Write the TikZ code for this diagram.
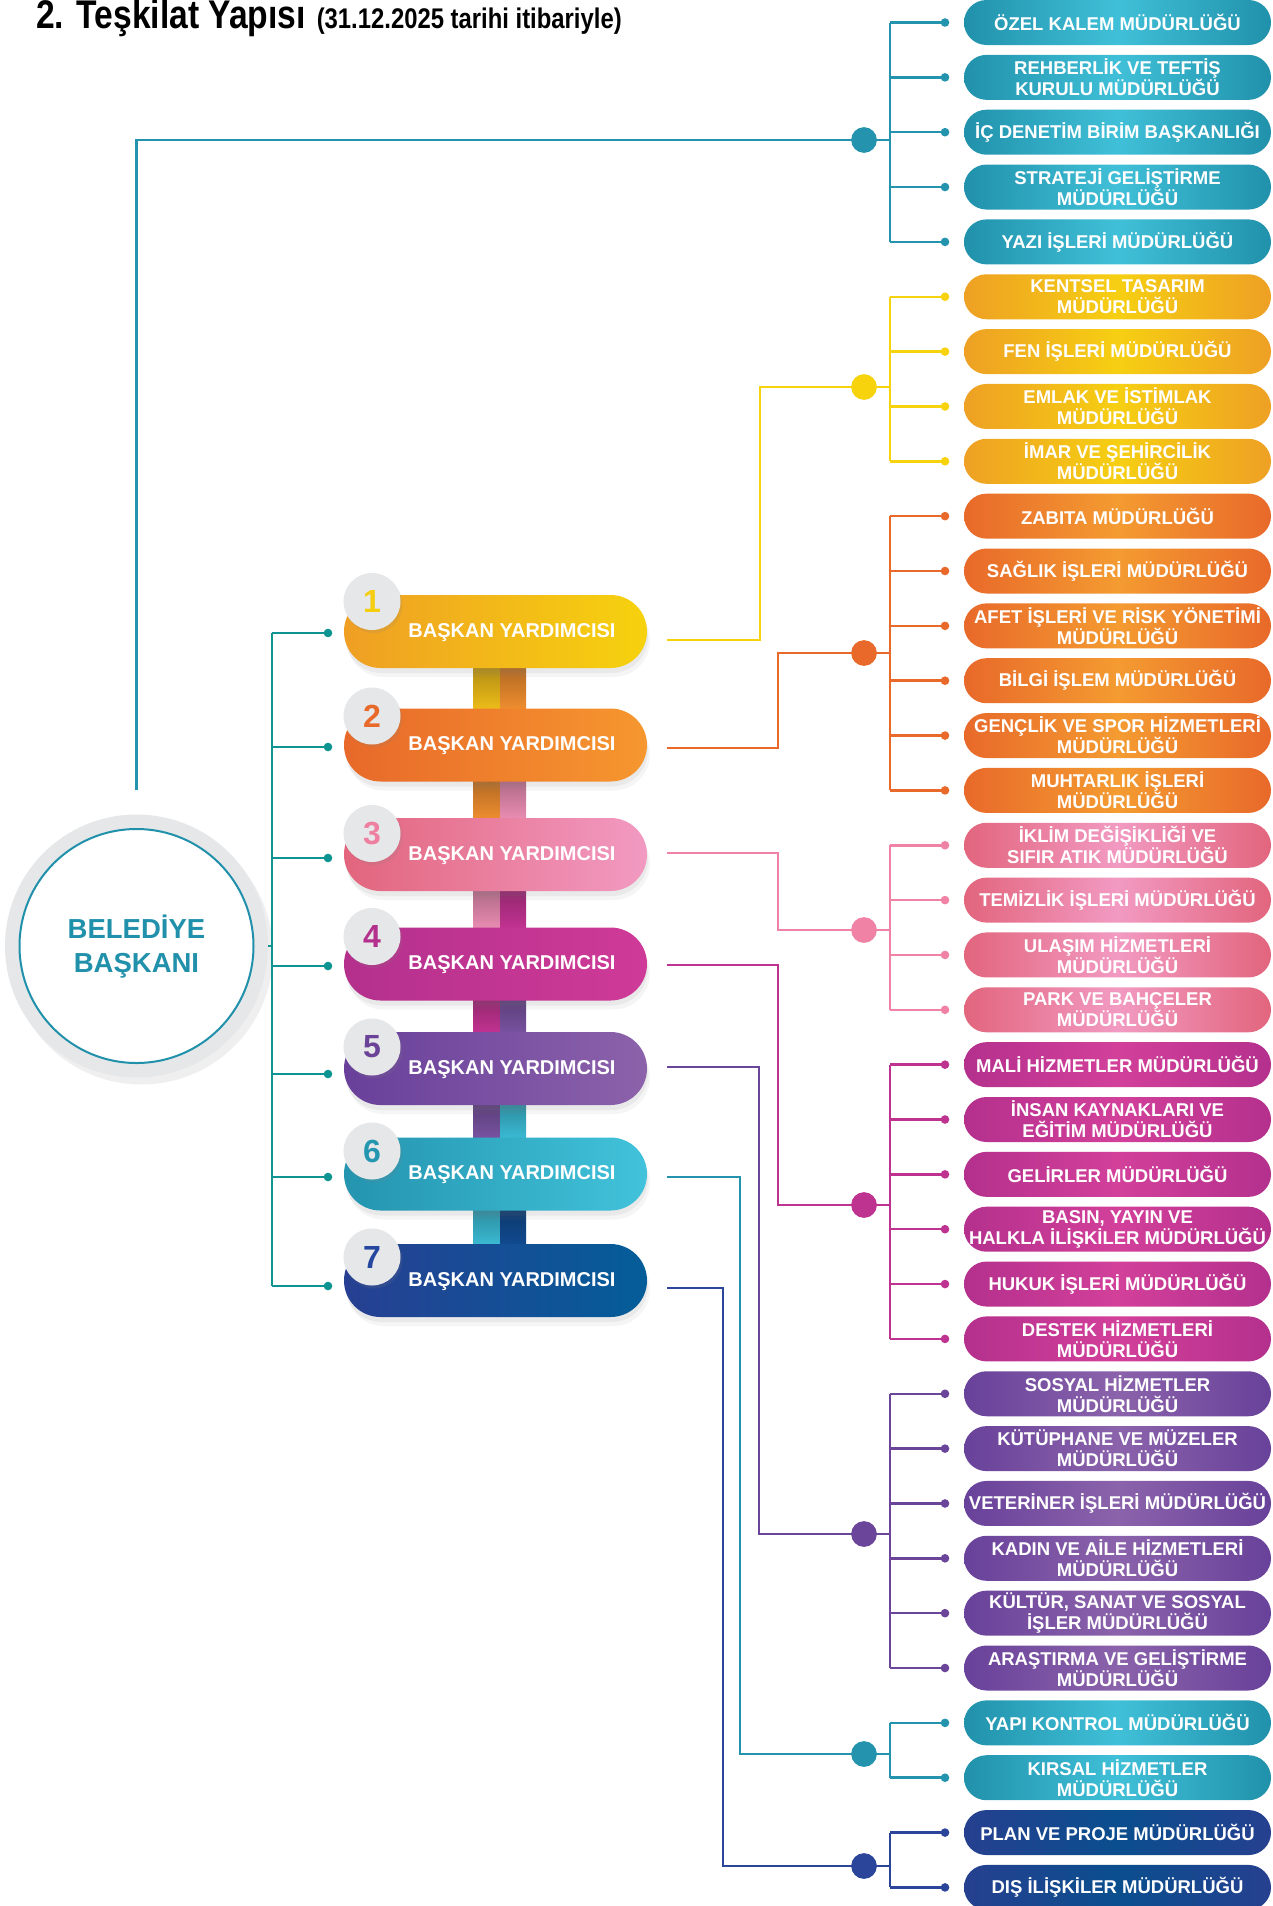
\documentclass[tikz,border=0pt]{standalone}
\usepackage{fontspec}
\setmainfont{Liberation Sans}
\newfontfamily\condfont[FakeStretch=0.84]{Liberation Sans}
\usetikzlibrary{shadows}
% box colours (A = edge, B = centre, L = line)
\definecolor{tlA}{HTML}{2191AB}\definecolor{tlB}{HTML}{40C0D8}\definecolor{tlL}{HTML}{2494AE}
\definecolor{ylA}{HTML}{EEA024}\definecolor{ylB}{HTML}{F6CF12}\definecolor{ylL}{HTML}{F6D30C}
\definecolor{orA}{HTML}{E8692A}\definecolor{orB}{HTML}{F49B31}\definecolor{orL}{HTML}{E8692A}
\definecolor{pkA}{HTML}{E2657D}\definecolor{pkB}{HTML}{F29AC2}\definecolor{pkL}{HTML}{EF82A5}
\definecolor{mgA}{HTML}{B4308D}\definecolor{mgB}{HTML}{D2409A}\definecolor{mgL}{HTML}{BE338F}
\definecolor{puA}{HTML}{68419A}\definecolor{puB}{HTML}{8B63AB}\definecolor{puL}{HTML}{6B4599}
\definecolor{nvA}{HTML}{26408F}\definecolor{nvB}{HTML}{0A4E8E}\definecolor{nvL}{HTML}{2A4599}
\definecolor{vpL}{HTML}{0E9490}
\definecolor{ring}{HTML}{E6E7E8}
% pill colours
\definecolor{v1a}{HTML}{EF9F24}\definecolor{v1b}{HTML}{F6D20E}
\definecolor{v2a}{HTML}{E8692A}\definecolor{v2b}{HTML}{F6972F}
\definecolor{v3a}{HTML}{E2657D}\definecolor{v3b}{HTML}{F29AC2}
\definecolor{v4a}{HTML}{B4308D}\definecolor{v4b}{HTML}{CF3A97}
\definecolor{v5a}{HTML}{68409A}\definecolor{v5b}{HTML}{8C62AB}
\definecolor{v6a}{HTML}{2494AF}\definecolor{v6b}{HTML}{42C3DB}
\definecolor{v7a}{HTML}{273F92}\definecolor{v7b}{HTML}{045D99}
\definecolor{n1}{HTML}{F5CE10}\definecolor{n2}{HTML}{E8692A}\definecolor{n3}{HTML}{EE7FA0}
\definecolor{n4}{HTML}{B4308D}\definecolor{n5}{HTML}{6A4297}\definecolor{n6}{HTML}{2596B0}
\definecolor{n7}{HTML}{2647A0}
\definecolor{bY}{HTML}{F2C01A}\definecolor{bO}{HTML}{F39030}\definecolor{bP}{HTML}{EF90B7}
\definecolor{bM}{HTML}{C73495}\definecolor{bU}{HTML}{7B54A4}\definecolor{bC}{HTML}{3CBED8}
\definecolor{bN}{HTML}{114C93}

\newcommand\rbx[4]{%
  \node[rbox,sh=#2] (b#1) at (1117.5,{22.5+54.85*(#1-1)}) {#4};
  \node[sdot=#3] (sd#1) at (945,{22.5+54.85*(#1-1)}) {};}
\newcommand\mkgrp[4]{%
  \draw[conn=#1] (#4.center) -- (#4 -| bx) (sd#2 -| bx) -- (sd#3 -| bx);
  \foreach \i in {#2,...,#3}{\draw[conn=#1] (sd\i -| bx) -- (sd\i.center);}}

\begin{document}
\begin{tikzpicture}[x=1pt,y=-1pt,
  rbox/.style={rectangle, rounded corners=22.5pt, minimum width=307pt, minimum height=45pt,
    inner sep=0pt, text=white, align=center, font=\fontsize{18.5}{21}\selectfont\bfseries},
  sh/.style={left color=#1A, right color=#1A, middle color=#1B},
  sdot/.style={circle, minimum size=8.6pt, inner sep=0pt, fill=#1},
  bdot/.style={circle, minimum size=25.4pt, inner sep=0pt, fill=#1},
  conn/.style={draw=#1, line width=2.5pt},
  vp/.style={rectangle, rounded corners=36.5pt, minimum width=303pt, minimum height=73pt, inner sep=0pt,
    drop shadow={shadow xshift=3pt, shadow yshift=-9pt, opacity=0.08},
    drop shadow={shadow xshift=1pt, shadow yshift=-5pt, opacity=0.10}},
  vptext/.style={text=white, inner sep=0pt, font=\fontsize{20}{20}\selectfont\bfseries},
  numc/.style={circle, fill=ring, minimum size=57pt, inner sep=0pt, font=\fontsize{32}{32}\selectfont\bfseries,
    drop shadow={shadow xshift=2pt, shadow yshift=-3pt, opacity=0.15}},
  bar/.style={top color=#1!70!black, bottom color=#1}
]
\fill[white] (0,0) rectangle (1273,1906);
\useasboundingbox (0,0) rectangle (1273,1906);

% title
\node[anchor=base west, inner sep=0pt] (title) at (36,28)
  {\condfont\bfseries\fontsize{40}{40}\selectfont 2. Teşkilat Yapısı\hspace{11pt}{\fontsize{28.4}{28}\selectfont(31.12.2025 tarihi itibariyle)}};

% connecting bars between vice-president pills
\fill[bar=bY] (473,662) rectangle (500,712);
\fill[bar=bO] (500,662) rectangle (526,712);
\fill[bar=bO] (473,775) rectangle (500,822);
\fill[bar=bP] (500,775) rectangle (526,822);
\fill[bar=bP] (473,885) rectangle (500,932);
\fill[bar=bM] (500,885) rectangle (526,932);
\fill[bar=bM] (473,994) rectangle (500,1036);
\fill[bar=bU] (500,994) rectangle (526,1036);
\fill[bar=bU] (473,1099) rectangle (500,1141);
\fill[bar=bC] (500,1099) rectangle (526,1141);
\fill[bar=bC] (473,1204) rectangle (500,1248);
\fill[bar=bN] (500,1204) rectangle (526,1248);

% president
\node[circle, fill=ring, minimum size=263pt, inner sep=0pt,
  drop shadow={shadow xshift=5pt, shadow yshift=-7pt, opacity=0.12}] (pres) at (136.5,946) {};
\node[circle, fill=white, draw=tlA, line width=2pt, minimum size=234pt, inner sep=0pt] (presin) at (136.5,946) {};
\node[text=tlA, align=center, inner sep=0pt, font=\fontsize{27.5}{34}\selectfont\bfseries] (prest) at (136.5,947) {BELEDİYE\\BAŞKANI};

% vice-president pills
\foreach \k/\c/\nc in {1/631.5/601.5, 2/745/716, 3/854.5/833.5, 4/964/936.5, 5/1068.5/1047, 6/1174/1151, 7/1280.5/1257}{
  \node[vp, left color=v\k a, right color=v\k b] (v\k) at (495.5,\c) {};
  \node[vptext] (vt\k) at (512,\c+1) {BAŞKAN YARDIMCISI};
  \node[numc, text=n\k] (nc\k) at (372,\nc) {\k};
}

% left bracket from president to vice-presidents
\coordinate (vx) at (272,0);
\foreach \k/\y in {1/633, 2/747, 3/858, 4/966, 5/1074, 6/1177, 7/1286}{
  \node[sdot=vpL] (vd\k) at (328,\y) {};
  \draw[conn=vpL] (vd\k -| vx) -- (vd\k.center);
}
\draw[conn=vpL] (vd1 -| vx) -- (vd7 -| vx);
\draw[conn=vpL] (pres.east) -- (pres.east -| vx);

% right-hand boxes
\rbx{1}{tl}{tlL}{ÖZEL KALEM MÜDÜRLÜĞÜ}
\rbx{2}{tl}{tlL}{REHBERLİK VE TEFTİŞ\\KURULU MÜDÜRLÜĞÜ}
\rbx{3}{tl}{tlL}{İÇ DENETİM BİRİM BAŞKANLIĞI}
\rbx{4}{tl}{tlL}{STRATEJİ GELİŞTİRME\\MÜDÜRLÜĞÜ}
\rbx{5}{tl}{tlL}{YAZI İŞLERİ MÜDÜRLÜĞÜ}
\rbx{6}{yl}{ylL}{KENTSEL TASARIM\\MÜDÜRLÜĞÜ}
\rbx{7}{yl}{ylL}{FEN İŞLERİ MÜDÜRLÜĞÜ}
\rbx{8}{yl}{ylL}{EMLAK VE İSTİMLAK\\MÜDÜRLÜĞÜ}
\rbx{9}{yl}{ylL}{İMAR VE ŞEHİRCİLİK\\MÜDÜRLÜĞÜ}
\rbx{10}{or}{orL}{ZABITA MÜDÜRLÜĞÜ}
\rbx{11}{or}{orL}{SAĞLIK İŞLERİ MÜDÜRLÜĞÜ}
\rbx{12}{or}{orL}{AFET İŞLERİ VE RİSK YÖNETİMİ\\MÜDÜRLÜĞÜ}
\rbx{13}{or}{orL}{BİLGİ İŞLEM MÜDÜRLÜĞÜ}
\rbx{14}{or}{orL}{GENÇLİK VE SPOR HİZMETLERİ\\MÜDÜRLÜĞÜ}
\rbx{15}{or}{orL}{MUHTARLIK İŞLERİ\\MÜDÜRLÜĞÜ}
\rbx{16}{pk}{pkL}{İKLİM DEĞİŞİKLİĞİ VE\\SIFIR ATIK MÜDÜRLÜĞÜ}
\rbx{17}{pk}{pkL}{TEMİZLİK İŞLERİ MÜDÜRLÜĞÜ}
\rbx{18}{pk}{pkL}{ULAŞIM HİZMETLERİ\\MÜDÜRLÜĞÜ}
\rbx{19}{pk}{pkL}{PARK VE BAHÇELER\\MÜDÜRLÜĞÜ}
\rbx{20}{mg}{mgL}{MALİ HİZMETLER MÜDÜRLÜĞÜ}
\rbx{21}{mg}{mgL}{İNSAN KAYNAKLARI VE\\EĞİTİM MÜDÜRLÜĞÜ}
\rbx{22}{mg}{mgL}{GELİRLER MÜDÜRLÜĞÜ}
\rbx{23}{mg}{mgL}{BASIN, YAYIN VE\\HALKLA İLİŞKİLER MÜDÜRLÜĞÜ}
\rbx{24}{mg}{mgL}{HUKUK İŞLERİ MÜDÜRLÜĞÜ}
\rbx{25}{mg}{mgL}{DESTEK HİZMETLERİ\\MÜDÜRLÜĞÜ}
\rbx{26}{pu}{puL}{SOSYAL HİZMETLER\\MÜDÜRLÜĞÜ}
\rbx{27}{pu}{puL}{KÜTÜPHANE VE MÜZELER\\MÜDÜRLÜĞÜ}
\rbx{28}{pu}{puL}{VETERİNER İŞLERİ MÜDÜRLÜĞÜ}
\rbx{29}{pu}{puL}{KADIN VE AİLE HİZMETLERİ\\MÜDÜRLÜĞÜ}
\rbx{30}{pu}{puL}{KÜLTÜR, SANAT VE SOSYAL\\İŞLER MÜDÜRLÜĞÜ}
\rbx{31}{pu}{puL}{ARAŞTIRMA VE GELİŞTİRME\\MÜDÜRLÜĞÜ}
\rbx{32}{tl}{tlL}{YAPI KONTROL MÜDÜRLÜĞÜ}
\rbx{33}{tl}{tlL}{KIRSAL HİZMETLER\\MÜDÜRLÜĞÜ}
\rbx{34}{nv}{nvL}{PLAN VE PROJE MÜDÜRLÜĞÜ}
\rbx{35}{nv}{nvL}{DIŞ İLİŞKİLER MÜDÜRLÜĞÜ}

% group hub dots
\node[bdot=tlL] (g1) at (864,140) {};
\node[bdot=ylL] (g2) at (864,387) {};
\node[bdot=orL] (g3) at (864,653) {};
\node[bdot=pkL] (g4) at (864,930) {};
\node[bdot=mgL] (g5) at (864,1205) {};
\node[bdot=puL] (g6) at (864,1534) {};
\node[bdot=tlL] (g7) at (864,1754) {};
\node[bdot=nvL] (g8) at (864,1866) {};

% brackets
\coordinate (bx) at (890,0);
\mkgrp{tlL}{1}{5}{g1}
\mkgrp{ylL}{6}{9}{g2}
\mkgrp{orL}{10}{15}{g3}
\mkgrp{pkL}{16}{19}{g4}
\mkgrp{mgL}{20}{25}{g5}
\mkgrp{puL}{26}{31}{g6}
\mkgrp{tlL}{32}{33}{g7}
\mkgrp{nvL}{34}{35}{g8}

% connectors to hubs
\coordinate (ptop) at (136.5,790);
\draw[conn=tlL] (ptop) |- (g1.center);
\coordinate (s1) at (667,640);
\coordinate (s2) at (667,748);
\coordinate (s3) at (667,853);
\coordinate (s4) at (667,965);
\coordinate (s5) at (667,1067);
\coordinate (s6) at (667,1177);
\coordinate (s7) at (667,1288);
\draw[conn=ylL] (s1) -- ++(93,0) |- (g2.center);
\draw[conn=orL] (s2) -- ++(111,0) |- (g3.center);
\draw[conn=pkL] (s3) -- ++(111,0) |- (g4.center);
\draw[conn=mgL] (s4) -- ++(111,0) |- (g5.center);
\draw[conn=puL] (s5) -- ++(92,0) |- (g6.center);
\draw[conn=tlL] (s6) -- ++(73,0) |- (g7.center);
\draw[conn=nvL] (s7) -- ++(56,0) |- (g8.center);
% redraw hub dots on top
\foreach \g/\c in {g1/tlL,g2/ylL,g3/orL,g4/pkL,g5/mgL,g6/puL,g7/tlL,g8/nvL}{\fill[\c] (\g) circle (12.7pt);}
\end{tikzpicture}
\end{document}
